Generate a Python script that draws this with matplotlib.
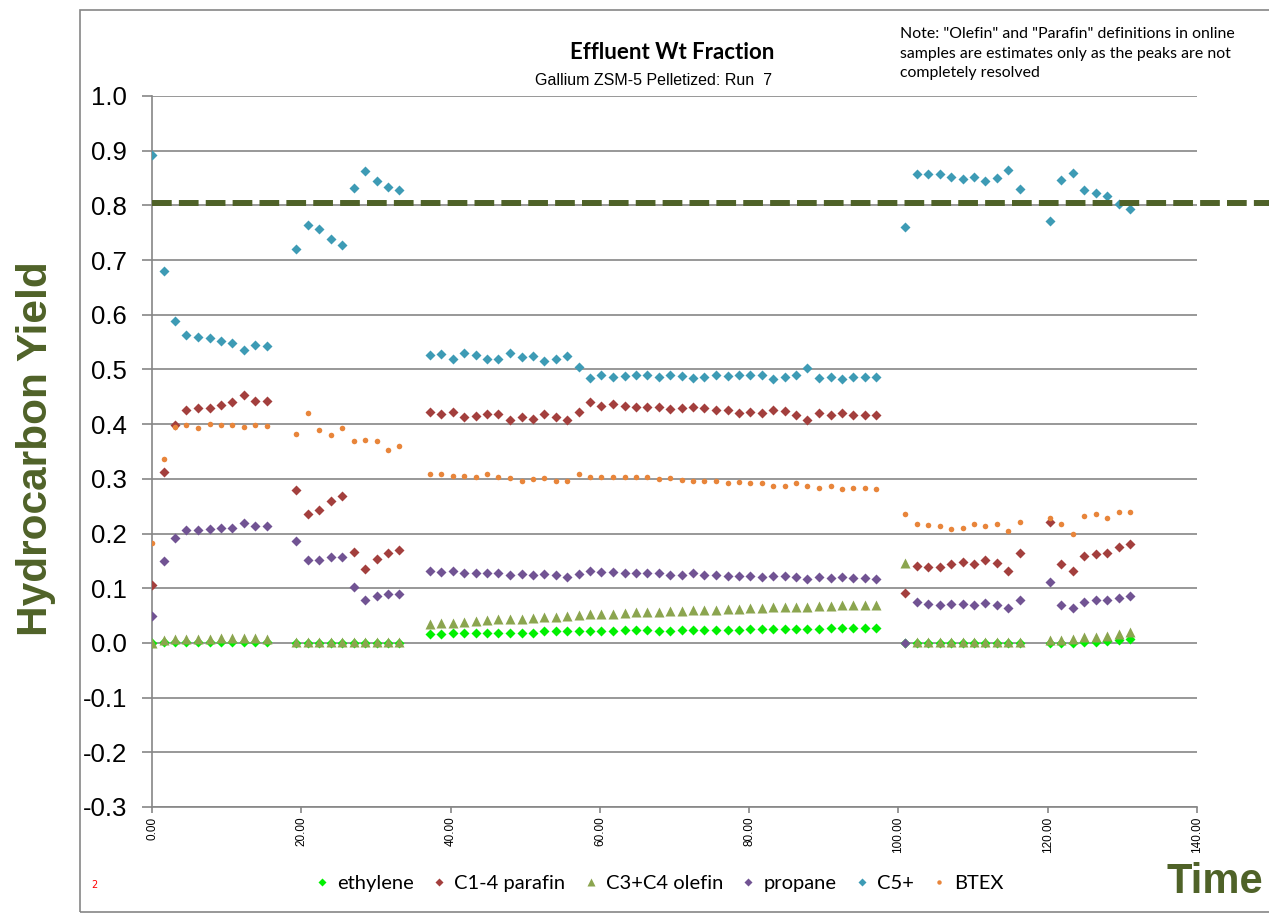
import numpy as np
import matplotlib
matplotlib.use("Agg")
import matplotlib.pyplot as plt
from matplotlib.patches import Rectangle
from matplotlib.ticker import FormatStrFormatter

plt.rcParams["axes.unicode_minus"] = False

# time on stream, hours (five runs of samples)
time = [0.0, 1.55, 3.1, 4.6, 6.15, 7.7, 9.2, 10.75, 12.3, 13.8, 15.35,
        19.3, 20.9, 22.4, 23.95, 25.5, 27.0, 28.55, 30.1, 31.6, 33.15,
        37.2, 38.75, 40.3, 41.8, 43.35, 44.9, 46.4, 47.95, 49.5, 51.0,
        52.55, 54.1, 55.6, 57.15, 58.7, 60.2, 61.75, 63.3, 64.8, 66.35,
        67.9, 69.4, 70.95, 72.5, 74.0, 75.55, 77.1, 78.6, 80.15, 81.7,
        83.2, 84.75, 86.3, 87.8, 89.35, 90.9, 92.4, 93.95, 95.5, 97.0,
        100.9, 102.45, 104.0, 105.5, 107.05, 108.6, 110.1, 111.65, 113.2, 114.7, 116.25,
        120.3, 121.8, 123.35, 124.9, 126.4, 127.95, 129.5, 131.0]

ethylene = [0.0, 0.002, 0.002, 0.002, 0.002, 0.002, 0.002, 0.002, 0.002, 0.002, 0.002,
            0.0, 0.0, 0.0, 0.0, 0.0, 0.0, 0.0, 0.0, 0.0, 0.0,
            0.016, 0.016, 0.018, 0.018, 0.018, 0.019, 0.019, 0.019, 0.019, 0.019,
            0.021, 0.021, 0.021, 0.022, 0.022, 0.022, 0.022, 0.024, 0.024, 0.023,
            0.022, 0.022, 0.024, 0.024, 0.024, 0.024, 0.024, 0.024, 0.026, 0.026,
            0.026, 0.026, 0.026, 0.026, 0.026, 0.027, 0.027, 0.027, 0.027, 0.027,
            0.0, 0.0, 0.0, 0.0, 0.0, 0.0, 0.0, 0.0, 0.0, 0.0, 0.0,
            0.0, 0.0, 0.0, 0.001, 0.001, 0.004, 0.006, 0.007]

c14_parafin = [0.105, 0.312, 0.399, 0.425, 0.430, 0.430, 0.435, 0.440, 0.453, 0.443, 0.443,
               0.280, 0.235, 0.243, 0.260, 0.269, 0.166, 0.136, 0.154, 0.165, 0.169,
               0.422, 0.418, 0.423, 0.413, 0.415, 0.418, 0.418, 0.407, 0.413, 0.410,
               0.418, 0.413, 0.407, 0.423, 0.440, 0.434, 0.437, 0.433, 0.431, 0.431,
               0.431, 0.428, 0.429, 0.431, 0.429, 0.425, 0.426, 0.421, 0.422, 0.420,
               0.425, 0.424, 0.417, 0.407, 0.421, 0.417, 0.421, 0.416, 0.417, 0.416,
               0.092, 0.140, 0.139, 0.139, 0.145, 0.148, 0.145, 0.151, 0.146, 0.132, 0.165,
               0.221, 0.145, 0.132, 0.159, 0.162, 0.165, 0.176, 0.180]

c3c4_olefin = [0.0, 0.006, 0.008, 0.008, 0.007, 0.007, 0.009, 0.009, 0.009, 0.009, 0.008,
               0.001, 0.001, 0.001, 0.001, 0.001, 0.001, 0.001, 0.001, 0.001, 0.001,
               0.035, 0.036, 0.037, 0.039, 0.040, 0.041, 0.043, 0.043, 0.044, 0.046,
               0.047, 0.047, 0.049, 0.051, 0.052, 0.053, 0.053, 0.055, 0.056, 0.057,
               0.057, 0.058, 0.058, 0.060, 0.060, 0.061, 0.062, 0.062, 0.064, 0.064,
               0.065, 0.066, 0.065, 0.066, 0.067, 0.067, 0.069, 0.069, 0.069, 0.069,
               0.146, 0.001, 0.001, 0.001, 0.001, 0.001, 0.001, 0.001, 0.001, 0.001, 0.001,
               0.006, 0.006, 0.007, 0.010, 0.011, 0.013, 0.017, 0.020]

propane = [0.050, 0.149, 0.192, 0.206, 0.207, 0.209, 0.211, 0.211, 0.219, 0.213, 0.213,
           0.186, 0.152, 0.152, 0.157, 0.157, 0.102, 0.079, 0.086, 0.090, 0.090,
           0.131, 0.129, 0.131, 0.127, 0.128, 0.128, 0.127, 0.124, 0.126, 0.124,
           0.126, 0.124, 0.121, 0.126, 0.131, 0.129, 0.129, 0.128, 0.128, 0.127,
           0.127, 0.125, 0.125, 0.127, 0.125, 0.124, 0.123, 0.122, 0.122, 0.120,
           0.122, 0.122, 0.120, 0.116, 0.120, 0.118, 0.120, 0.118, 0.118, 0.117,
           0.0, 0.075, 0.071, 0.069, 0.071, 0.071, 0.069, 0.073, 0.069, 0.063, 0.078,
           0.112, 0.070, 0.063, 0.075, 0.078, 0.078, 0.083, 0.085]

c5_plus = [0.892, 0.680, 0.589, 0.563, 0.559, 0.558, 0.552, 0.548, 0.535, 0.544, 0.543,
           0.720, 0.764, 0.756, 0.738, 0.728, 0.831, 0.862, 0.844, 0.833, 0.828,
           0.527, 0.529, 0.520, 0.531, 0.527, 0.520, 0.520, 0.530, 0.523, 0.524,
           0.515, 0.520, 0.524, 0.504, 0.484, 0.489, 0.486, 0.488, 0.489, 0.489,
           0.486, 0.489, 0.488, 0.485, 0.486, 0.489, 0.488, 0.490, 0.490, 0.490,
           0.483, 0.486, 0.489, 0.502, 0.485, 0.487, 0.483, 0.487, 0.486, 0.486,
           0.760, 0.858, 0.858, 0.858, 0.852, 0.848, 0.852, 0.844, 0.850, 0.865, 0.830,
           0.772, 0.847, 0.859, 0.829, 0.823, 0.817, 0.802, 0.793]

btex = [0.183, 0.337, 0.395, 0.398, 0.393, 0.401, 0.399, 0.398, 0.394, 0.398, 0.397,
        0.382, 0.420, 0.389, 0.381, 0.393, 0.370, 0.371, 0.370, 0.353, 0.360,
        0.309, 0.309, 0.306, 0.305, 0.303, 0.308, 0.303, 0.301, 0.296, 0.300,
        0.301, 0.296, 0.296, 0.309, 0.303, 0.304, 0.303, 0.304, 0.304, 0.303,
        0.300, 0.301, 0.298, 0.296, 0.296, 0.296, 0.292, 0.294, 0.292, 0.293,
        0.286, 0.287, 0.292, 0.287, 0.284, 0.287, 0.282, 0.284, 0.283, 0.282,
        0.235, 0.217, 0.216, 0.214, 0.208, 0.210, 0.217, 0.213, 0.218, 0.204, 0.222,
        0.228, 0.217, 0.199, 0.232, 0.235, 0.229, 0.240, 0.240]

target = 0.805
olive = "#4F6228"
grey = "#868686"

fig = plt.figure(figsize=(12.69, 9.16), dpi=100)
ax = fig.add_axes([0.1198, 0.1190, 0.8235, 0.7762])

ax.plot(time, ethylene, "D", color="#00F000", ms=5, mec="none", label="ethylene", zorder=3)
ax.plot(time, c14_parafin, "D", color="#A33F3D", ms=5.5, mec="none", label="C1-4 parafin", zorder=3)
ax.plot(time, c3c4_olefin, "^", color="#8BA54F", ms=7, mec="none", label="C3+C4 olefin", zorder=3)
ax.plot(time, propane, "D", color="#715393", ms=5.5, mec="none", label="propane", zorder=3)
ax.plot(time, c5_plus, "D", color="#3D9BB5", ms=5.5, mec="none", label="C5+", zorder=3)
ax.plot(time, btex, "o", color="#E8853A", ms=4, mec="none", label="BTEX", zorder=3)

# target line runs past the plot edge
ax.plot([0, 150], [target, target], color=olive, lw=4.3, dashes=(3.3, 1.2),
        solid_capstyle="butt", dash_capstyle="butt", clip_on=False, zorder=4)

ax.set_xlim(0, 140)
ax.set_ylim(-0.3, 1.0)
ax.set_xticks(np.arange(0, 141, 20))
ax.set_yticks(np.arange(-0.3, 1.01, 0.1))
ax.xaxis.set_major_formatter(FormatStrFormatter("%.2f"))
ax.yaxis.set_major_formatter(FormatStrFormatter("%.1f"))
ax.grid(axis="y", color=grey, lw=1.2)
ax.set_axisbelow(True)
for s in ["top", "right"]:
    ax.spines[s].set_visible(False)
for s in ["left", "bottom"]:
    ax.spines[s].set_color(grey)
    ax.spines[s].set_linewidth(1.2)
ax.tick_params(axis="y", direction="out", length=7, color=grey, width=1.2,
               labelsize=18.5, pad=11)
ax.tick_params(axis="x", direction="out", length=4, color=grey, width=1.2,
               labelsize=8.5, labelrotation=90, pad=3)
for lab in ax.get_yticklabels():
    lab.set_family("Liberation Sans")
for lab in ax.get_xticklabels():
    lab.set_family("Liberation Sans")

fig.text(0.028, 0.510, "Hydrocarbon Yield", rotation=90, ha="center", va="center",
         fontsize=30.5, fontweight="bold", color=olive, family="Liberation Sans")
fig.text(0.957, 0.037, "Time", ha="center", va="center",
         fontsize=30, fontweight="bold", color=olive, family="Liberation Sans")

fig.text(0.530, 0.943, "Effluent Wt Fraction", ha="center", va="center",
         fontsize=16, fontweight="bold", family="Lato")
fig.text(0.515, 0.912, "Gallium ZSM-5 Pelletized: Run  7", ha="center", va="center",
         fontsize=11.5, family="Liberation Sans")
fig.text(0.709, 0.970, 'Note: "Olefin" and "Parafin" definitions in online\n'
         'samples are estimates only as the peaks are not\ncompletely resolved',
         ha="left", va="top", fontsize=11.4, family="Lato", linespacing=1.5)
fig.text(0.074, 0.034, "2", color="red", fontsize=7, ha="center", va="center")

leg = fig.legend(loc="center", bbox_to_anchor=(0.519, 0.036), ncol=6, frameon=False,
                 handlelength=0.8, handletextpad=0.35, columnspacing=0.85, markerscale=0.8,
                 prop={"family": "Lato", "size": 14.5})

# chart area border
fig.patches.append(Rectangle((80 / 1269, 4 / 916), 1.2, 902 / 916, transform=fig.transFigure,
                             fill=False, ec=grey, lw=1.2))

fig.savefig("out.png", dpi=100)
